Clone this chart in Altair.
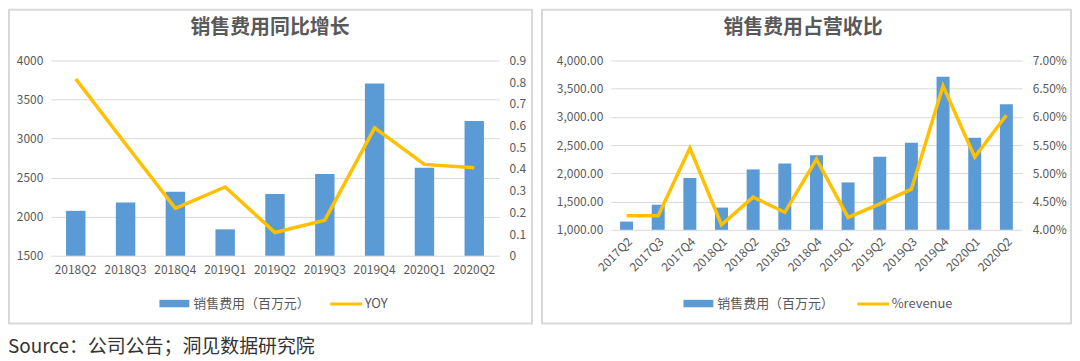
import altair as alt
import pandas as pd

# ---------------- data ----------------
quarters_yoy = ["2018Q2", "2018Q3", "2018Q4", "2019Q1", "2019Q2", "2019Q3", "2019Q4", "2020Q1", "2020Q2"]
sales_yoy = [2075, 2180, 2320, 1838, 2290, 2545, 3705, 2625, 3225]
yoy = [0.815, 0.515, 0.218, 0.317, 0.107, 0.164, 0.589, 0.421, 0.405]

quarters_rev = ["2017Q2", "2017Q3", "2017Q4", "2018Q1", "2018Q2", "2018Q3", "2018Q4",
                "2019Q1", "2019Q2", "2019Q3", "2019Q4", "2020Q1", "2020Q2"]
sales_rev = [1146, 1446, 1918, 1394, 2070, 2175, 2323, 1840, 2294, 2541, 3711, 2629, 3224]
pct_rev = [0.0425, 0.0425, 0.0545, 0.0409, 0.0458, 0.0431, 0.0525, 0.0422, 0.0446, 0.0472, 0.0655, 0.0529, 0.0603]

bar_name = "销售费用（百万元）"
title_left = "销售费用同比增长"
title_right = "销售费用占营收比"
source_text = "Source：公司公告；洞见数据研究院"

BLUE = "#5B9BD5"
GOLD = "#FFC000"
GRID = "#D9D9D9"
TXT = "#595959"
FONT = "Noto Sans CJK SC"
BAR_SYMBOL = "M-1,-0.25H1V0.25H-1Z"


def panel(quarters, sales, line_vals, line_name, title, W, H,
          ydom, yvals, yfmt, rdom, rvals, rfmt, label_angle, label_pad,
          pad_inner, border, title_x, leg_bar, leg_line):
    df = pd.DataFrame({"quarter": quarters, "sales": sales, "val": line_vals,
                       "s1": bar_name, "s2": line_name})
    one = pd.DataFrame({"k": [0]})

    x = alt.X("quarter:N", sort=quarters,
              scale=alt.Scale(paddingInner=pad_inner, paddingOuter=pad_inner / 2),
              axis=alt.Axis(title=None, labelAngle=label_angle, domain=False, ticks=False,
                            labelPadding=label_pad, labelFontSize=12, labelColor=TXT,
                            labelFont=FONT))

    frame = alt.Chart(one).mark_rect(fillOpacity=0, stroke=GRID, strokeWidth=2).encode(
        x=alt.value(border[0]), x2=alt.value(border[1]),
        y=alt.value(border[2]), y2=alt.value(border[3]))

    ttl = alt.Chart(one).mark_text(text=title, fontSize=20, fontWeight="bold", font=FONT,
                                   color=TXT, align="center", baseline="middle").encode(
        x=alt.value(title_x), y=alt.value(-33))

    bars = alt.Chart(df).mark_bar().encode(
        x=x,
        y=alt.Y("sales:Q", scale=alt.Scale(domain=ydom),
                axis=alt.Axis(title=None, values=yvals, format=yfmt, grid=True, gridColor=GRID,
                              gridWidth=1, domain=False, ticks=False, labelPadding=8,
                              labelFontSize=12, labelColor=TXT, labelFont=FONT)),
        y2=alt.datum(ydom[0]),
        fill=alt.Fill("s1:N", scale=alt.Scale(range=[BLUE]),
                      legend=alt.Legend(title=None, orient="none", legendX=leg_bar[0],
                                        legendY=leg_bar[1], symbolType=BAR_SYMBOL,
                                        symbolSize=900, symbolStrokeWidth=0,
                                        symbolOpacity=1, labelOffset=4,
                                        labelFontSize=13, labelColor=TXT, labelFont=FONT)),
    )

    line = alt.Chart(df).mark_line(strokeWidth=3.5).encode(
        x=x,
        y=alt.Y("val:Q", scale=alt.Scale(domain=rdom),
                axis=alt.Axis(title=None, orient="right", values=rvals, format=rfmt, grid=False,
                              domain=False, ticks=False, labelPadding=10,
                              labelFontSize=12, labelColor=TXT, labelFont=FONT)),
        stroke=alt.Stroke("s2:N", scale=alt.Scale(range=[GOLD]),
                          legend=alt.Legend(title=None, orient="none", legendX=leg_line[0],
                                            legendY=leg_line[1], symbolType="stroke",
                                            symbolSize=1024, symbolStrokeWidth=3,
                                            labelOffset=1,
                                            labelFontSize=13, labelColor=TXT, labelFont=FONT)),
    )

    return alt.layer(frame, ttl, bars, line).resolve_scale(
        y="independent", fill="independent", stroke="independent"
    ).properties(width=W, height=H)


left = panel(quarters_yoy, sales_yoy, yoy, "YOY", title_left, 450, 196,
             [1500, 4000], [1500, 2000, 2500, 3000, 3500, 4000], "d",
             [0, 0.9], [0, 0.1, 0.2, 0.3, 0.4, 0.5, 0.6, 0.7, 0.8, 0.9], "~g",
             0, 9, 0.61, (-42, 483, -51, 264), 220,
             (109, 229), (279, 227))

right = panel(quarters_rev, sales_rev, pct_rev, "%revenue", title_right, 413, 170,
              [1000, 4000], [1000, 1500, 2000, 2500, 3000, 3500, 4000], ",.2f",
              [0.04, 0.07], [0.04, 0.045, 0.05, 0.055, 0.06, 0.065, 0.07], ".2%",
              315, 6, 0.59, (-69, 462, -51, 264), 193,
              (73, 229), (246, 227))

chart = alt.hconcat(left, right, spacing=8).properties(
    padding=0,
    title=alt.TitleParams(text=source_text, orient="bottom", anchor="start", offset=14,
                          fontSize=19, fontWeight="normal", font=FONT, color="#333333"),
).configure_view(stroke=None)

chart.save("out.html", embed_options={"renderer": "svg", "actions": False})
